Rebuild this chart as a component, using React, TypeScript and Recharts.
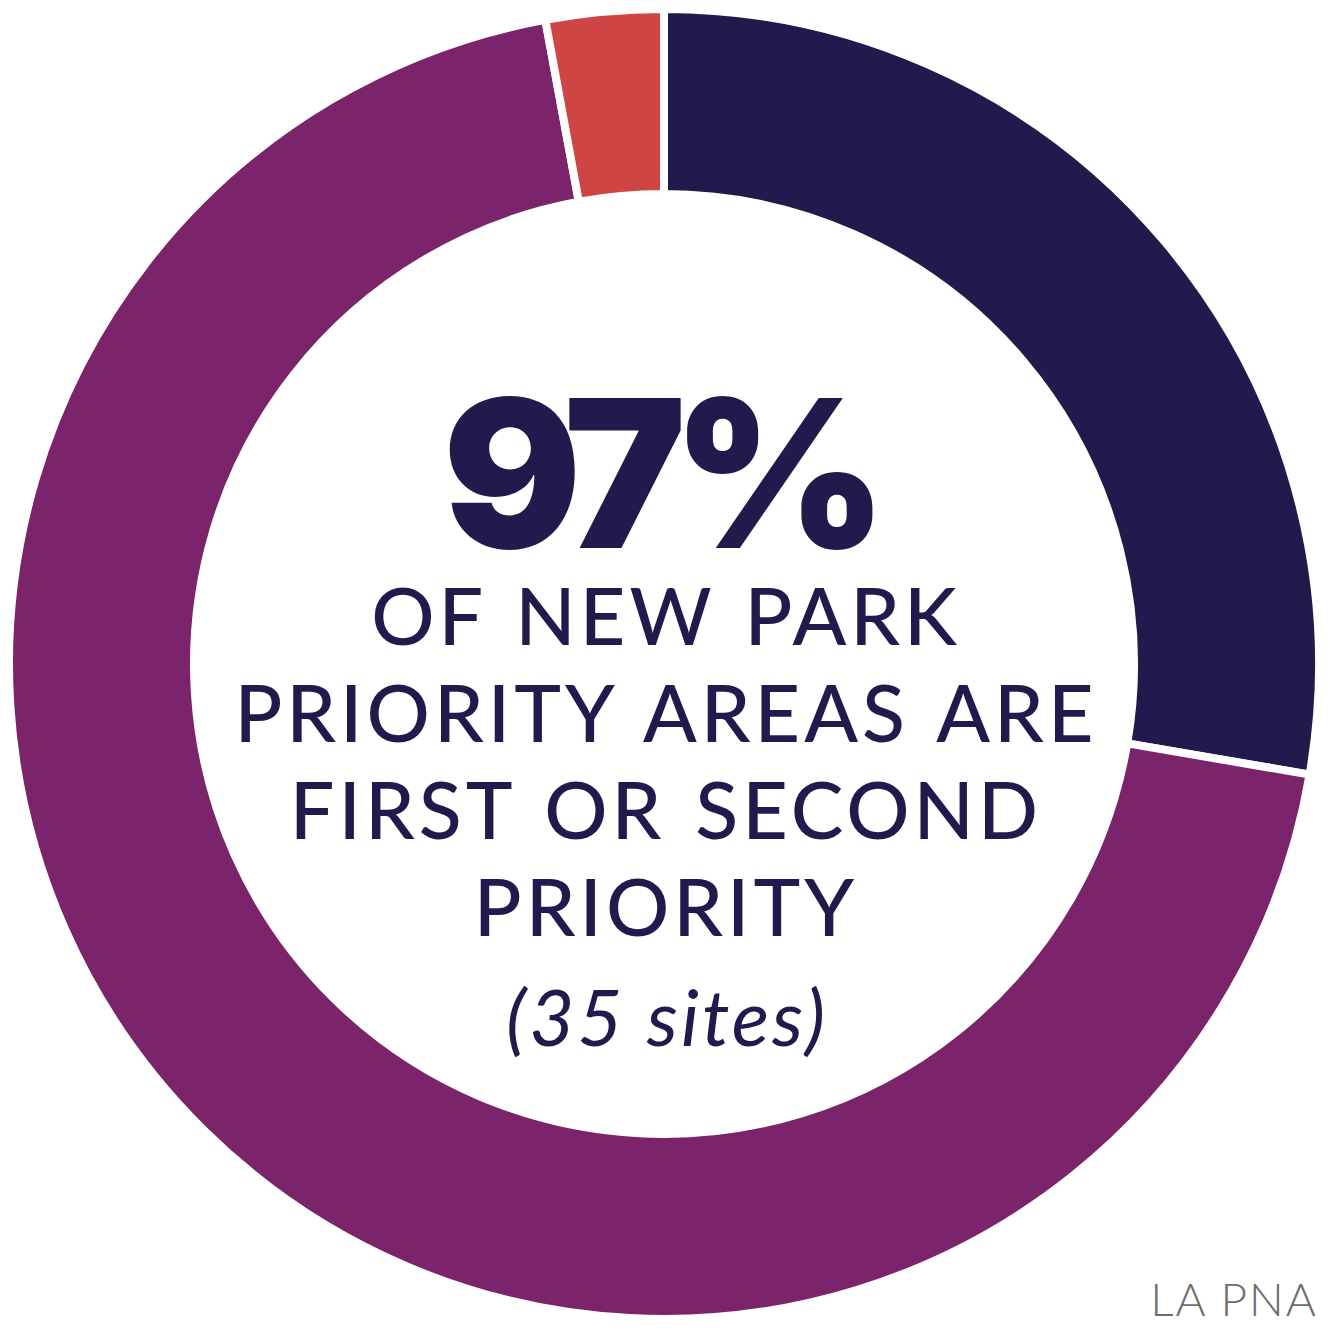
import React from "react";
import { PieChart, Pie, Cell } from "recharts";

const categories = ["First priority", "Second priority", "Third priority"];
const shares = [27.7, 69.4, 2.9];
const colors = ["#201a4d", "#7b246b", "#cf4544"];

const headline = "97%";
const captionLines = ["OF NEW PARK", "PRIORITY AREAS ARE", "FIRST OR SECOND", "PRIORITY"];
const subCaption = "(35 sites)";
const source = "LA PNA";

const data = categories.map((name, i) => ({ name, value: shares[i] }));

const W = 1330;
const H = 1330;
const CX = 664;
const CY = 664;
const NAVY = "#201a4d";

const App: React.FC = () => {
  return (
    <div style={{ position: "absolute", left: 0, top: 0, width: W, height: H, background: "#fff" }}>
      <PieChart width={W} height={H} margin={{ top: 0, right: 0, bottom: 0, left: 0 }}>
        <Pie
          data={data}
          dataKey="value"
          nameKey="name"
          cx={CX}
          cy={CY}
          innerRadius={470}
          outerRadius={655}
          startAngle={90}
          endAngle={-270}
          stroke="#fff"
          strokeWidth={8}
          isAnimationActive={false}
        >
          {data.map((d, i) => (
            <Cell key={d.name} fill={colors[i]} />
          ))}
        </Pie>
      </PieChart>

      {/* texte central */}
      <svg width={W} height={H} style={{ position: "absolute", left: 0, top: 0, pointerEvents: "none" }}>
        <text
          x={CX - 6}
          y={548}
          textAnchor="middle"
          fill={NAVY}
          fontFamily="Inter, 'DejaVu Sans', sans-serif"
          fontWeight={900}
          fontSize={206}
          letterSpacing={-14}
        >
          {headline}
        </text>
        {captionLines.map((line, i) => (
          <text
            key={line}
            x={CX + 2}
            y={645 + i * 97}
            textAnchor="middle"
            fill={NAVY}
            fontFamily="Lato, 'Noto Sans', sans-serif"
            fontWeight={500}
            fontSize={79}
            letterSpacing={4}
            wordSpacing={6}
          >
            {line}
          </text>
        ))}
        <text
          x={CX + 3}
          y={1046}
          textAnchor="middle"
          fill={NAVY}
          fontFamily="Lato, 'Noto Sans', sans-serif"
          fontStyle="italic"
          fontSize={78}
          letterSpacing={3}
        >
          {subCaption}
        </text>
        <text
          x={1318}
          y={1316}
          textAnchor="end"
          fill="#6d6d6d"
          fontFamily="Lato, 'Noto Sans', sans-serif"
          fontWeight={300}
          fontSize={46}
          letterSpacing={2}
        >
          {source}
        </text>
      </svg>
    </div>
  );
};

export default App;
